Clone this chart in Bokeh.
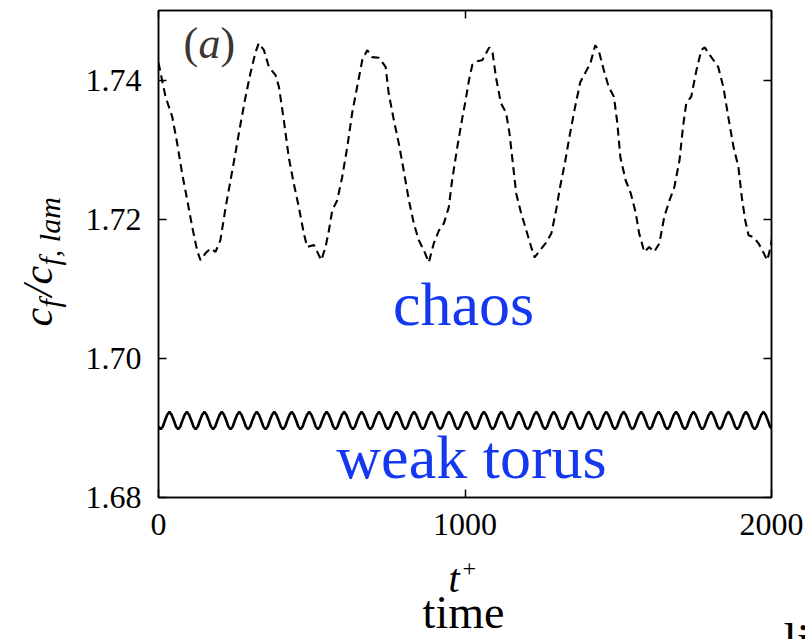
import math
from bokeh.plotting import figure
from bokeh.layouts import row, column
from bokeh.models import Label, LinearAxis, FixedTicker, Range1d, NumeralTickFormatter
from bokeh.embed import file_html
from bokeh.resources import INLINE

# Skin-friction time series (normalised by the laminar value)
chaos_t = [0, 23, 45, 61, 77, 94, 110, 126, 137, 153, 170, 186, 202, 219, 235, 251,
           268, 284, 300, 316, 327, 344, 360, 382, 393, 409, 425, 441, 458, 474, 485,
           507, 518, 531, 545, 556, 567, 583, 599, 616, 632, 648, 665, 681, 697, 719,
           741, 751, 768, 784, 800, 817, 833, 849, 866, 882, 898, 915, 931, 947, 958,
           975, 991, 1002, 1013, 1024, 1040, 1057, 1079, 1090, 1101, 1117, 1134, 1145,
           1156, 1167, 1183, 1200, 1216, 1227, 1244, 1266, 1282, 1299, 1310, 1326, 1343,
           1359, 1376, 1392, 1409, 1425, 1436, 1453, 1469, 1486, 1497, 1507, 1524, 1541,
           1557, 1568, 1585, 1601, 1617, 1634, 1650, 1667, 1683, 1700, 1711, 1722, 1738,
           1755, 1771, 1782, 1799, 1826, 1843, 1859, 1876, 1892, 1903, 1914, 1925, 1942,
           1958, 1975, 1986, 1997, 2002]
chaos_cf = [1.7425, 1.7376, 1.7347, 1.7309, 1.7266, 1.7227, 1.7189, 1.7155, 1.7141,
            1.7151, 1.7158, 1.7153, 1.7170, 1.7217, 1.7256, 1.7295, 1.7338, 1.7376,
            1.7410, 1.7439, 1.7453, 1.7443, 1.7419, 1.7407, 1.7390, 1.7342, 1.7289,
            1.7252, 1.7217, 1.7180, 1.7160, 1.7163, 1.7153, 1.7141, 1.7160, 1.7184,
            1.7213, 1.7227, 1.7260, 1.7304, 1.7353, 1.7390, 1.7429, 1.7443, 1.7433,
            1.7432, 1.7419, 1.7381, 1.7342, 1.7309, 1.7270, 1.7227, 1.7194, 1.7170,
            1.7155, 1.7138, 1.7165, 1.7184, 1.7194, 1.7217, 1.7256, 1.7304, 1.7345,
            1.7371, 1.7400, 1.7422, 1.7427, 1.7429, 1.7447, 1.7439, 1.7404, 1.7367,
            1.7353, 1.7324, 1.7281, 1.7237, 1.7209, 1.7184, 1.7160, 1.7145, 1.7155,
            1.7167, 1.7180, 1.7217, 1.7246, 1.7281, 1.7324, 1.7361, 1.7397, 1.7410,
            1.7424, 1.7450, 1.7443, 1.7414, 1.7390, 1.7376, 1.7338, 1.7289, 1.7256,
            1.7237, 1.7209, 1.7180, 1.7153, 1.7160, 1.7153, 1.7165, 1.7203, 1.7227,
            1.7246, 1.7285, 1.7332, 1.7367, 1.7376, 1.7414, 1.7443, 1.7447, 1.7436,
            1.7419, 1.7390, 1.7347, 1.7304, 1.7275, 1.7232, 1.7199, 1.7177, 1.7174,
            1.7165, 1.7151, 1.7141, 1.7160, 1.7174]

# weak-torus signal, sampled every torus_dt time units
torus_dt = 7.125
torus_cf = [
    1.6902, 1.6898, 1.6902, 1.6911, 1.6919,
    1.6923, 1.6919, 1.6911, 1.6902, 1.6898, 1.6902, 1.6911, 1.6919,
    1.6923, 1.6919, 1.6911, 1.6902, 1.6898, 1.6902, 1.6911, 1.6919,
    1.6923, 1.6919, 1.6911, 1.6902, 1.6898, 1.6902, 1.6911, 1.6919,
    1.6923, 1.6919, 1.6911, 1.6902, 1.6898, 1.6902, 1.6911, 1.6919,
    1.6923, 1.6919, 1.6911, 1.6902, 1.6898, 1.6902, 1.6911, 1.6919,
    1.6923, 1.6919, 1.6911, 1.6902, 1.6898, 1.6902, 1.6911, 1.6919,
    1.6923, 1.6919, 1.6911, 1.6902, 1.6898, 1.6902, 1.6911, 1.6919,
    1.6923, 1.6919, 1.6911, 1.6902, 1.6898, 1.6902, 1.6911, 1.6919,
    1.6923, 1.6919, 1.6911, 1.6902, 1.6898, 1.6902, 1.6911, 1.6919,
    1.6923, 1.6919, 1.6911, 1.6902, 1.6898, 1.6902, 1.6911, 1.6919,
    1.6923, 1.6919, 1.6911, 1.6902, 1.6898, 1.6902, 1.6911, 1.6919,
    1.6923, 1.6919, 1.6911, 1.6902, 1.6898, 1.6902, 1.6911, 1.6919,
    1.6923, 1.6919, 1.6911, 1.6902, 1.6898, 1.6902, 1.6911, 1.6919,
    1.6923, 1.6919, 1.6911, 1.6902, 1.6898, 1.6902, 1.6911, 1.6919,
    1.6923, 1.6919, 1.6911, 1.6902, 1.6898, 1.6902, 1.6911, 1.6919,
    1.6923, 1.6919, 1.6911, 1.6902, 1.6898, 1.6902, 1.6911, 1.6919,
    1.6923, 1.6919, 1.6911, 1.6902, 1.6898, 1.6902, 1.6911, 1.6919,
    1.6923, 1.6919, 1.6911, 1.6902, 1.6898, 1.6902, 1.6911, 1.6919,
    1.6923, 1.6919, 1.6911, 1.6902, 1.6898, 1.6902, 1.6911, 1.6919,
    1.6923, 1.6919, 1.6911, 1.6902, 1.6898, 1.6902, 1.6911, 1.6919,
    1.6923, 1.6919, 1.6911, 1.6902, 1.6898, 1.6902, 1.6911, 1.6919,
    1.6923, 1.6919, 1.6911, 1.6902, 1.6898, 1.6902, 1.6911, 1.6919,
    1.6923, 1.6919, 1.6911, 1.6902, 1.6898, 1.6902, 1.6911, 1.6919,
    1.6923, 1.6919, 1.6911, 1.6902, 1.6898, 1.6902, 1.6911, 1.6919,
    1.6923, 1.6919, 1.6911, 1.6902, 1.6898, 1.6902, 1.6911, 1.6919,
    1.6923, 1.6919, 1.6911, 1.6902, 1.6898, 1.6902, 1.6911, 1.6919,
    1.6923, 1.6919, 1.6911, 1.6902, 1.6898, 1.6902, 1.6911, 1.6919,
    1.6923, 1.6919, 1.6911, 1.6902, 1.6898, 1.6902, 1.6911, 1.6919,
    1.6923, 1.6919, 1.6911, 1.6902, 1.6898, 1.6902, 1.6911, 1.6919,
    1.6923, 1.6919, 1.6911, 1.6902, 1.6898, 1.6902, 1.6911, 1.6919,
    1.6923, 1.6919, 1.6911, 1.6902, 1.6898, 1.6902, 1.6911, 1.6919,
    1.6923, 1.6919, 1.6911, 1.6902, 1.6898, 1.6902, 1.6911, 1.6919,
    1.6923, 1.6919, 1.6911, 1.6902, 1.6898, 1.6902, 1.6911, 1.6919,
    1.6923, 1.6919, 1.6911, 1.6902, 1.6898, 1.6902, 1.6911, 1.6919,
    1.6923, 1.6919, 1.6911, 1.6902, 1.6898,
]
torus_t = [i * torus_dt for i in range(len(torus_cf))]

x_ticks = [0, 1000, 2000]
y_ticks = [1.68, 1.70, 1.72, 1.74]

SERIF = "Liberation Serif"
BLUE = "#1438f0"
W, H = 805, 639

# page split: a strip for the y title, the chart, and a strip for the x title
TITLE_W = 70                   # width of the y-title strip
CHART_H = 552                  # height of the chart row
FRAME_LEFT, FRAME_TOP = 158, 10
FRAME_RIGHT_PAD = 34
FRAME_BOTTOM = 497             # frame bottom, px from the top of the page
DROP = 0.29                    # label anchor sits this many em below the baseline


def blank(width, height):
    f = figure(width=width, height=height, output_backend="svg", toolbar_location=None,
               x_axis_type=None, y_axis_type=None, min_border=0)
    f.outline_line_color = None
    f.background_fill_color = "white"
    f.border_fill_color = "white"
    return f


def place(fig, x0, y0, X, Y, text, size, **kw):
    """Label whose baseline starts at page pixel (X, Y); (x0, y0) is the frame's lower-left."""
    opts = dict(text_font=SERIF, text_color="black", text_align="left",
                text_baseline="alphabetic")
    opts.update(kw)
    fig.add_layout(Label(x=X - x0, y=y0 - (Y - DROP * size), x_units="screen", y_units="screen",
                         text=text, text_font_size=f"{size}px", **opts))


def place_up(fig, x0, y0, X, Y, text, size, **kw):
    """Label written bottom-to-top, its baseline at page column X, starting at page row Y."""
    opts = dict(text_font=SERIF, text_font_style="italic", text_color="black",
                text_align="left", text_baseline="alphabetic", angle=math.pi / 2)
    opts.update(kw)
    fig.add_layout(Label(x=X - DROP * size - x0, y=y0 - Y - 60, x_units="screen",
                         y_units="screen", text=text, text_font_size=f"{size}px", **opts))


p = figure(width=W - TITLE_W, height=CHART_H, output_backend="svg", toolbar_location=None,
           x_range=Range1d(0, 2000), y_range=Range1d(1.68, 1.75),
           x_axis_type=None, y_axis_type=None,
           min_border_left=FRAME_LEFT - TITLE_W, min_border_right=FRAME_RIGHT_PAD,
           min_border_top=FRAME_TOP, min_border_bottom=CHART_H - FRAME_BOTTOM)
p.background_fill_color = "white"
p.border_fill_color = "white"
p.outline_line_color = "black"
p.outline_line_width = 1.5


def style_axis(ax, ticks, show_labels):
    ax.major_tick_in = 8
    ax.major_tick_out = 0
    ax.minor_tick_in = 0
    ax.minor_tick_out = 0
    ax.axis_line_color = "black"
    ax.axis_line_width = 1.5
    ax.major_tick_line_width = 1.5
    ax.major_tick_line_color = "black"
    ax.major_label_text_font = SERIF
    ax.major_label_text_color = "black"
    ax.major_label_text_font_size = "32px"
    if not show_labels:
        ax.major_label_overrides = {t: "" for t in ticks}
        ax.major_label_standoff = 0


xb = LinearAxis(ticker=FixedTicker(ticks=x_ticks), formatter=NumeralTickFormatter(format="0"))
style_axis(xb, x_ticks, True)
xb.major_label_standoff = 16
p.add_layout(xb, "below")

xa = LinearAxis(ticker=FixedTicker(ticks=x_ticks))
style_axis(xa, x_ticks, False)
p.add_layout(xa, "above")

yl = LinearAxis(ticker=FixedTicker(ticks=y_ticks), formatter=NumeralTickFormatter(format="0.00"))
style_axis(yl, y_ticks, True)
yl.major_label_standoff = 17
p.add_layout(yl, "left")

yr = LinearAxis(ticker=FixedTicker(ticks=y_ticks))
style_axis(yr, y_ticks, False)
p.add_layout(yr, "right")

p.line(chaos_t, chaos_cf, line_color="black", line_width=2.1, line_dash="8 5")
p.line(torus_t, torus_cf, line_color="black", line_width=2.6)

# annotations inside the frame
fx, fy = FRAME_LEFT, FRAME_BOTTOM
place(p, fx, fy, 463, 321, "chaos", 62, text_align="center", text_color=BLUE)
place(p, fx, fy, 471, 474, "weak torus", 62, text_align="center", text_color=BLUE)
place(p, fx, fy, 183, 56, "(", 44, text_color="#3d3530")
place(p, fx, fy, 198, 56, "a", 44, text_color="#3d3530", text_font_style="italic")
place(p, fx, fy, 220, 56, ")", 44, text_color="#3d3530")

# y title c_f / c_f,lam, rotated, in its own strip
ytitle = blank(TITLE_W, CHART_H)
place_up(ytitle, 0, CHART_H, 50, 321, "c", 42)
place_up(ytitle, 0, CHART_H, 58, 302, "f", 30)
place_up(ytitle, 0, CHART_H, 50, 291, "/", 42)
place_up(ytitle, 0, CHART_H, 50, 279, "c", 42)
place_up(ytitle, 0, CHART_H, 58, 260, "f, lam", 30)

# x title t+ and caption, in the strip below
xtitle = blank(W, H - CHART_H)
place(xtitle, 0, H, 448, 590, "t", 40, text_font_style="italic")
place(xtitle, 0, H, 462, 575, "+", 24)
place(xtitle, 0, H, 463, 625, "time", 46, text_align="center")
place(xtitle, 0, H, 783, 654, "li", 48)

page = column(row(ytitle, p), xtitle)
open("out.html", "w").write(file_html(page, INLINE))
